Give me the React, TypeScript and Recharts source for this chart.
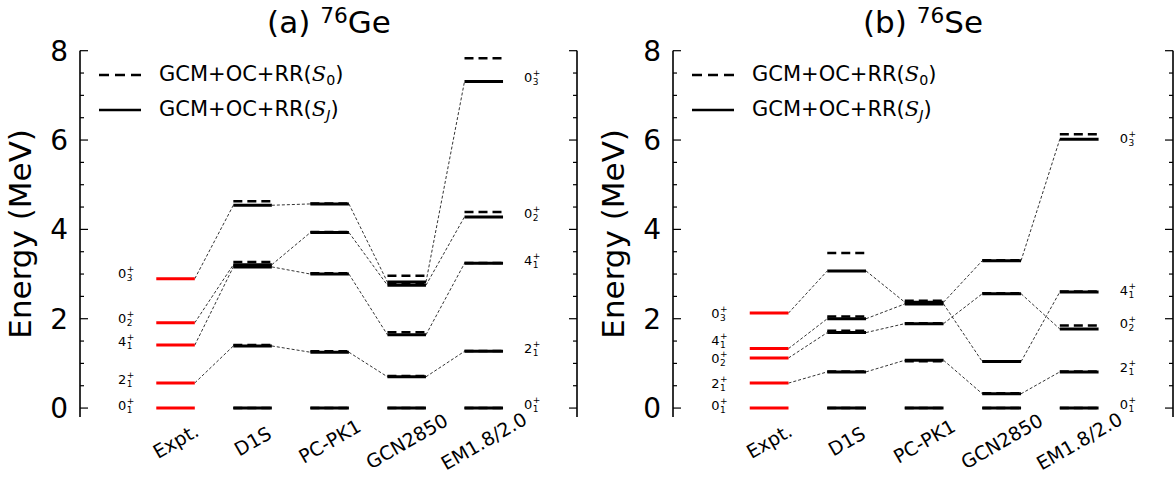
import React from "react";
import { ComposedChart, XAxis, YAxis, ReferenceLine, ReferenceArea, Scatter, Legend } from "recharts";

const FONT = "DejaVu Sans, sans-serif";

const categories = ["Expt.", "D1S", "PC-PK1", "GCN2850", "EM1.8/2.0"];
// states in order 0+1, 2+1, 4+1, 0+2, 0+3
const stateJ = ["0", "2", "4", "0", "0"];
const stateN = ["1", "1", "1", "2", "3"];

// 76Ge (MeV)
const geExpt = [0, 0.563, 1.41, 1.911, 2.897];
const geSJ = [
  [0, 1.39, 3.16, 3.21, 4.54], // D1S
  [0, 1.25, 3.0, 3.93, 4.57], // PC-PK1
  [0, 0.7, 1.64, 2.75, 2.82], // GCN2850
  [0, 1.27, 3.24, 4.28, 7.31], // EM1.8/2.0
];
const geS0 = [
  [0, 1.41, 3.19, 3.27, 4.63],
  [0, 1.27, 3.02, 3.94, 4.58],
  [0, 0.72, 1.7, 2.79, 2.96],
  [0, 1.28, 3.25, 4.39, 7.83],
];
const geLeftLabelE = [0.07, 0.65, 1.5, 2.02, 3.02];
const geRightLabelE = [0.08, 1.34, 3.31, 4.37, 7.4];

// 76Se (MeV)
const seExpt = [0, 0.559, 1.331, 1.122, 2.127];
const seSJ = [
  [0, 0.81, 2.0, 1.69, 3.07],
  [0, 1.07, 2.33, 1.89, 2.37],
  [0, 0.32, 1.04, 2.56, 3.3],
  [0, 0.81, 2.6, 1.77, 6.02],
];
const seS0 = [
  [0, 0.82, 2.05, 1.73, 3.47],
  [0, 1.05, 2.36, 1.9, 2.4],
  [0, 0.33, 1.05, 2.57, 3.31],
  [0, 0.82, 2.61, 1.85, 6.13],
];
const seLeftLabelE = [0.07, 0.56, 1.52, 1.12, 2.13];
const seRightLabelE = [0.08, 0.92, 2.64, 1.9, 6.04];

// energy ticks every 0.5 MeV, labelled every 2 MeV
const yTicks = [0, 0.5, 1, 1.5, 2, 2.5, 3, 3.5, 4, 4.5, 5, 5.5, 6, 6.5, 7, 7.5, 8];
const catTicks = [1, 2, 3, 4, 5];

const X_DOMAIN = [-0.24, 6.21];
const Y_DOMAIN = [-0.2, 8];
const HALF = 0.25;
const LEFT_LABEL_X = 0.38;
const RIGHT_LABEL_X = 5.65;

const isMajor = (v: number) => v % 2 === 0;

const LeftTick = (props: any) => {
  const { x, y, payload } = props;
  const major = isMajor(payload.value);
  return (
    <g>
      <line x1={x} x2={x + (major ? 8 : 4)} y1={y} y2={y} stroke="#000" strokeWidth={1.2} />
      {major && (
        <text x={x - 12} y={y} dy="0.36em" textAnchor="end" fontSize={28} fontFamily={FONT} fill="#000">
          {payload.value}
        </text>
      )}
    </g>
  );
};

const RightTick = (props: any) => {
  const { x, y, payload } = props;
  const major = isMajor(payload.value);
  return <line x1={x} x2={x - (major ? 8 : 4)} y1={y} y2={y} stroke="#000" strokeWidth={1.2} />;
};

// left + right spines only (matplotlib frame without top/bottom)
const FrameSides = (props: any) => {
  const { x, y, width, height } = props;
  const ok = [x, y, width, height].every((v) => typeof v === "number" && !isNaN(v));
  if (!ok) return null;
  return (
    <g>
      <line x1={x} x2={x} y1={y} y2={y + height} stroke="#000" strokeWidth={1.2} />
      <line x1={x + width} x2={x + width} y1={y} y2={y + height} stroke="#000" strokeWidth={1.2} />
    </g>
  );
};

const CatTick = (props: any) => {
  const { x, y, payload } = props;
  const cy = y + 24;
  return (
    <text
      x={x}
      y={cy}
      transform={`rotate(-30 ${x} ${cy})`}
      textAnchor="middle"
      dominantBaseline="central"
      fontSize={19}
      fontFamily={FONT}
      fill="#000"
    >
      {categories[payload.value - 1]}
    </text>
  );
};

const StateLabel = (props: any) => {
  const { cx, cy, payload } = props;
  if (cx == null || cy == null) return null;
  return (
    <g fontFamily={FONT} fill="#000">
      <text x={cx - 1.5} y={cy} dy="0.36em" fontSize={13} textAnchor="end">
        {payload.j}
      </text>
      <text x={cx - 1} y={cy - 4.5} dy="0.36em" fontSize={9}>
        +
      </text>
      <text x={cx - 1} y={cy + 4.5} dy="0.36em" fontSize={9}>
        {payload.n}
      </text>
    </g>
  );
};

const LegendBox = () => {
  const row = (dash: string | undefined, sub: string) => (
    <div style={{ display: "flex", alignItems: "center", height: 35 }}>
      <svg width={44} height={10}>
        <line x1={1} x2={43} y1={5} y2={5} stroke="#000" strokeWidth={2.5} strokeDasharray={dash} />
      </svg>
      <span style={{ marginLeft: 17, fontSize: 21, fontFamily: FONT, whiteSpace: "nowrap" }}>
        GCM+OC+RR(
        <span style={{ fontFamily: "DejaVu Serif, serif", fontStyle: "italic" }}>S</span>
        <span style={{ fontSize: "0.68em", verticalAlign: "-0.3em", fontStyle: sub === "J" ? "italic" : "normal" }}>{sub}</span>)
      </span>
    </div>
  );
  return (
    <div>
      {row("10 6", "0")}
      {row(undefined, "J")}
    </div>
  );
};

type PanelProps = {
  expt: number[];
  sj: number[][];
  s0: number[][];
  leftE: number[];
  rightE: number[];
  width: number;
  marginRight: number;
};

const Panel = ({ expt, sj, s0, leftE, rightE, width, marginRight }: PanelProps) => {
  const connectors: any[] = [];
  for (let s = 1; s < expt.length; s++) {
    const seq = [expt[s], ...sj.map((m) => m[s])];
    for (let i = 0; i < seq.length - 1; i++) {
      connectors.push(
        <ReferenceLine
          key={`c-${s}-${i}`}
          segment={[
            { x: i + 1 + HALF, y: seq[i] },
            { x: i + 2 - HALF, y: seq[i + 1] },
          ]}
          stroke="#000"
          strokeWidth={0.8}
          strokeDasharray="3 2"
        />
      );
    }
  }
  const exptLines = expt.map((e, s) => (
    <ReferenceLine
      key={`e-${s}`}
      segment={[
        { x: 1 - HALF, y: e },
        { x: 1 + HALF, y: e },
      ]}
      stroke="#ff0000"
      strokeWidth={3}
    />
  ));
  const sjLines = sj.flatMap((m, k) =>
    m.map((e, s) => (
      <ReferenceLine
        key={`j-${k}-${s}`}
        segment={[
          { x: k + 2 - HALF, y: e },
          { x: k + 2 + HALF, y: e },
        ]}
        stroke="#000"
        strokeWidth={3}
      />
    ))
  );
  const s0Lines = s0.flatMap((m, k) =>
    m.map((e, s) => (
      <ReferenceLine
        key={`z-${k}-${s}`}
        segment={[
          { x: k + 2 - HALF, y: e },
          { x: k + 2 + HALF, y: e },
        ]}
        stroke="#000"
        strokeWidth={2.5}
        strokeDasharray="9 5"
      />
    ))
  );
  const labels = [
    ...leftE.map((e, s) => ({ x: LEFT_LABEL_X, y: e, j: stateJ[s], n: stateN[s] })),
    ...rightE.map((e, s) => ({ x: RIGHT_LABEL_X, y: e, j: stateJ[s], n: stateN[s] })),
  ];

  return (
    <ComposedChart width={width} height={492} margin={{ top: 50.7, right: marginRight, bottom: 0, left: 0 }}>
      <XAxis
        type="number"
        dataKey="x"
        domain={X_DOMAIN}
        ticks={catTicks}
        allowDataOverflow
        axisLine={false}
        tickLine={false}
        tickSize={0}
        tickMargin={0}
        height={75}
        tick={<CatTick />}
      />
      <YAxis
        type="number"
        dataKey="y"
        domain={Y_DOMAIN}
        ticks={yTicks}
        interval={0}
        allowDataOverflow
        width={80}
        tickLine={false}
        tickSize={0}
        tickMargin={0}
        stroke="#000"
        tick={<LeftTick />}
        label={{
          value: "Energy (MeV)",
          angle: -90,
          position: "insideLeft",
          offset: 20,
          style: { textAnchor: "middle", fontSize: 31, fontFamily: FONT, fill: "#000" },
        }}
      />
      <YAxis
        yAxisId="r"
        orientation="right"
        type="number"
        domain={Y_DOMAIN}
        ticks={yTicks}
        interval={0}
        allowDataOverflow
        width={1}
        tickLine={false}
        tickSize={0}
        tickMargin={0}
        stroke="#000"
        tick={<RightTick />}
      />
      <ReferenceArea
        x1={X_DOMAIN[0]}
        x2={X_DOMAIN[1]}
        y1={Y_DOMAIN[0]}
        y2={Y_DOMAIN[1]}
        fill="none"
        stroke="none"
        shape={FrameSides}
      />
      {connectors}
      {exptLines}
      {sjLines}
      {s0Lines}
      <Scatter data={labels} shape={<StateLabel />} isAnimationActive={false} legendType="none" />
      <Legend
        layout="vertical"
        align="center"
        verticalAlign="middle"
        wrapperStyle={{ left: 98, top: 57.5, width: 320, height: 70 }}
        content={() => <LegendBox />}
      />
    </ComposedChart>
  );
};

const Title = ({ tag, left, children }: any) => (
  <div
    style={{
      position: "absolute",
      left,
      top: 0,
      width: 500,
      textAlign: "center",
      fontFamily: FONT,
      fontSize: 31,
      lineHeight: "44px",
      color: "#000",
    }}
  >
    ({tag}) <sup style={{ fontSize: "0.7em", verticalAlign: "0.45em", lineHeight: 0 }}>76</sup>
    {children}
  </div>
);

export default function App() {
  return (
    <div style={{ position: "absolute", left: 0, top: 0, width: 1175, height: 492, background: "#fff" }}>
      <div style={{ position: "absolute", left: 0, top: 0 }}>
        <Panel expt={geExpt} sj={geSJ} s0={geS0} leftE={geLeftLabelE} rightE={geRightLabelE} width={590} marginRight={12} />
      </div>
      <div style={{ position: "absolute", left: 593, top: 0 }}>
        <Panel expt={seExpt} sj={seSJ} s0={seS0} leftE={seLeftLabelE} rightE={seRightLabelE} width={582} marginRight={1} />
      </div>
      <Title tag="a" left={79}>Ge</Title>
      <Title tag="b" left={673}>Se</Title>
    </div>
  );
}
